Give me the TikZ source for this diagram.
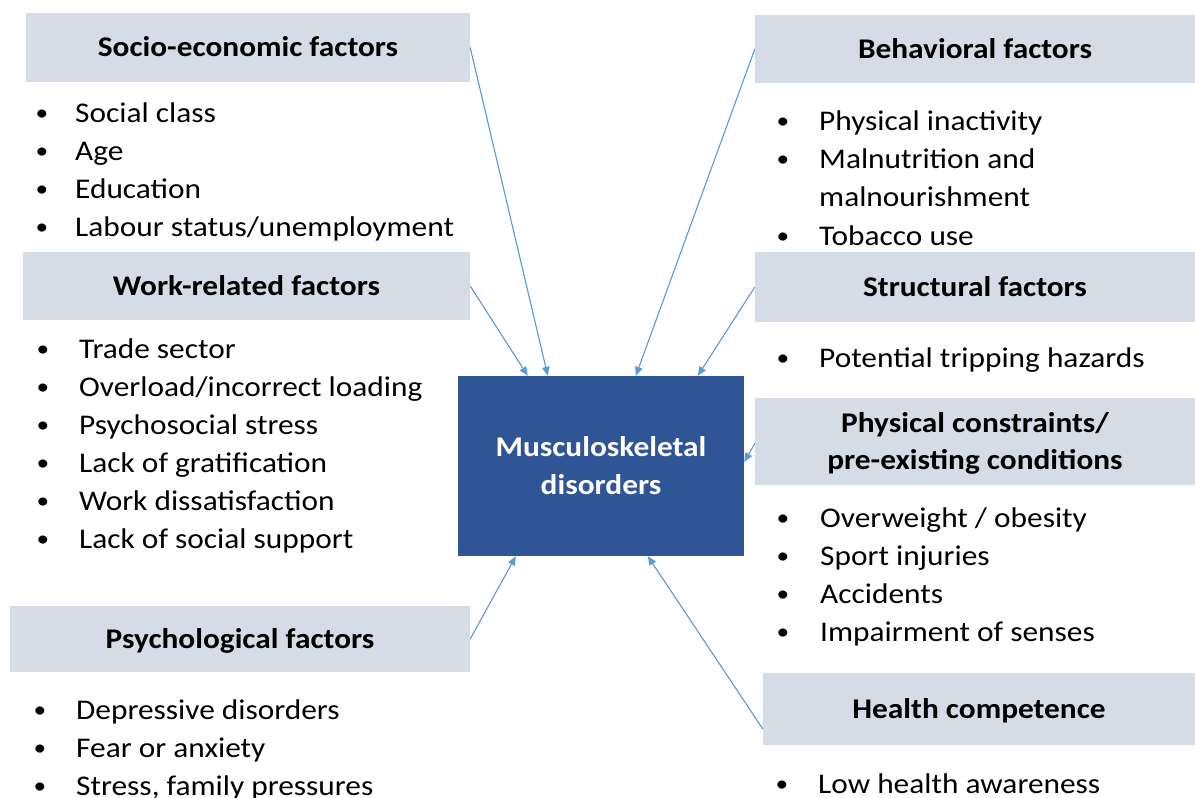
\documentclass[tikz,border=0pt]{standalone}
\usepackage{fontspec}
\setmainfont{Carlito}[FakeStretch=1.1]
\usetikzlibrary{arrows.meta,positioning,calc}
\definecolor{headfill}{HTML}{D6DCE5}
\definecolor{msdblue}{HTML}{2F5597}
\definecolor{linkblue}{HTML}{5B9BD5}
\tikzset{
  headbox/.style={fill=headfill, inner sep=0pt, align=center,
    font=\fontsize{28.5}{37}\selectfont\bfseries, text height=18pt, text depth=0pt},
  centerbox/.style={fill=msdblue, inner sep=0pt, minimum width=286pt, minimum height=180pt,
    text=white, align=center, font=\fontsize{28.5}{38}\selectfont\bfseries},
  itemtext/.style={anchor=base west, inner sep=0pt, font=\fontsize{28.5}{38}\selectfont},
  itemdot/.style={anchor=base, inner sep=0pt, yshift=2pt, font=\fontsize{23}{30}\selectfont},
  link/.style={-{Triangle[length=9pt,width=7.5pt]}, draw=linkblue, fill=linkblue, line width=1.1pt}
}
\newcommand{\factorlist}[6]{
  \foreach \itm [count=\i] in {#6} {
    \node[itemdot] (#1dot\i) at (#2,{#4+#5*(\i-1)}) {\textbullet};
    \node[itemtext] (#1\i) at (#3,{#4+#5*(\i-1)}) {\itm};
  }
}

\begin{document}
\begin{tikzpicture}[x=1pt,y=-1pt]
  \useasboundingbox (0,0) rectangle (1195,798);

  \node[centerbox] (msd) at (601,466) {Musculoskeletal\\disorders};

  \node[headbox, minimum width=444pt, minimum height=69pt] (socio) at (248,47.5) {Socio-economic factors};
  \factorlist{soc}{42}{75}{122}{38.3}{Social class, Age, Education, Labour status/unemployment}

  \node[headbox, minimum width=447pt, minimum height=68pt] (work) at (246.5,286) {Work-related factors};
  \factorlist{wrk}{43}{79}{358}{38}{Trade sector, Overload/incorrect loading, Psychosocial stress,
    Lack of gratification, Work dissatisfaction, Lack of social support}

  \node[headbox, minimum width=460pt, minimum height=66pt] (psych) at (240,639) {Psychological factors};
  \factorlist{psy}{40}{76}{719}{38}{Depressive disorders, Fear or anxiety, {Stress, family pressures}}

  \node[headbox, minimum width=440pt, minimum height=68pt] (behav) at (975,49) {Behavioral factors};
  \factorlist{beh}{783}{819}{130}{38.3}{Physical inactivity, Malnutrition and}
  \node[itemtext] (behwrap) at (819,206.6) {malnourishment};
  \factorlist{tob}{783}{819}{245}{38.3}{Tobacco use}

  \node[headbox, minimum width=440pt, minimum height=70pt] (struct) at (975,287) {Structural factors};
  \factorlist{str}{783}{819}{367}{38}{Potential tripping hazards}

  \node[headbox, minimum width=440pt, minimum height=87pt, text height=55pt] (phys) at (975,441.5)
    {Physical constraints/\\pre-existing conditions};
  \factorlist{phy}{783}{820}{527}{38}{Overweight / obesity, Sport injuries, Accidents, Impairment of senses}

  \node[headbox, minimum width=432pt, minimum height=72pt] (health) at (979,709) {Health competence};
  \factorlist{hlt}{782}{818}{793}{38}{Low health awareness}

  \draw[link] (socio.east) -- ([xshift=90pt]msd.north west);
  \draw[link] (work.east) -- ([xshift=70pt]msd.north west);
  \draw[link] (psych.east) -- ([xshift=58pt]msd.south west);
  \draw[link] (behav.west) -- ([xshift=178pt]msd.north west);
  \draw[link] (struct.west) -- ([xshift=240pt]msd.north west);
  \draw[link] ([yshift=-2pt]phys.west) -- ([yshift=4pt]msd.east);
  \draw[link] ([yshift=-20pt]health.west) -- ([xshift=190pt]msd.south west);
\end{tikzpicture}
\end{document}
